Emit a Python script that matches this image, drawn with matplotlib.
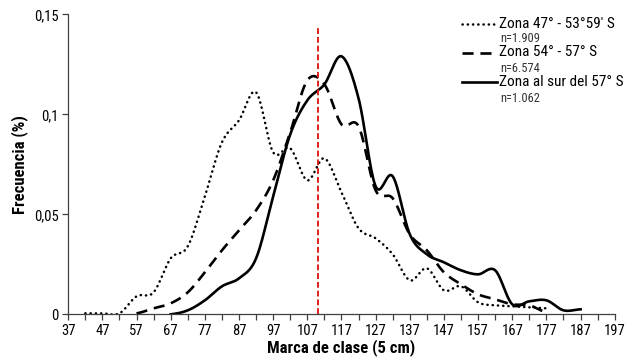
import numpy as np
import matplotlib
matplotlib.use("Agg")
import matplotlib.pyplot as plt
from matplotlib import font_manager
from matplotlib.lines import Line2D
from matplotlib.ticker import FuncFormatter

# class marks (5 cm) and frequencies
x_norte = [42, 47, 52, 57, 62, 67, 72, 77, 82, 87, 92, 97, 102, 107, 112, 117,
           122, 127, 132, 137, 142, 147, 152, 157, 162, 167, 172, 177]
f_norte = [0.0005, 0.0005, 0.0005, 0.009, 0.011, 0.028, 0.034, 0.059, 0.086,
           0.097, 0.111, 0.081, 0.083, 0.067, 0.078, 0.061, 0.043, 0.038,
           0.030, 0.017, 0.023, 0.012, 0.014, 0.006, 0.0045, 0.004, 0.0035,
           0.003]

x_centro = [57, 62, 67, 72, 77, 82, 87, 92, 97, 102, 107, 112, 117, 122, 127,
            132, 137, 142, 147, 152, 157, 162, 167, 172, 177]
f_centro = [0.0005, 0.003, 0.0055, 0.011, 0.021, 0.032, 0.042, 0.052, 0.067,
            0.091, 0.117, 0.115, 0.095, 0.094, 0.062, 0.058, 0.040, 0.032,
            0.021, 0.015, 0.010, 0.0075, 0.005, 0.0045, 0.001]

x_sur = [67, 72, 77, 82, 87, 92, 97, 102, 107, 112, 117, 122, 127, 132, 137,
         142, 147, 152, 157, 162, 167, 172, 177, 182, 187]
f_sur = [0.0, 0.002, 0.007, 0.014, 0.018, 0.028, 0.059, 0.090, 0.107, 0.115,
         0.129, 0.108, 0.064, 0.069, 0.040, 0.030, 0.026, 0.022, 0.020, 0.022,
         0.005, 0.0065, 0.007, 0.002, 0.0025]

labels = ["Zona 47° - 53°59' S", "Zona 54° - 57° S", "Zona al sur del 57° S"]
n_labels = ["n=1.909", "n=6.574", "n=1.062"]
talla_ref = 110

# Excel used Arial Narrow; pick a condensed sans if there is one
installed = {f.name for f in font_manager.fontManager.ttflist}
narrow = [f for f in ("Liberation Sans Narrow", "Roboto Condensed", "Archivo Narrow")
          if f in installed]
plt.rcParams["font.family"] = narrow[:1] + ["Liberation Sans", "DejaVu Sans"]
k = 1.0 if narrow else 0.8


def smooth(x, y, n=20):
    # catmull-rom through the points, like Excel's smoothed line
    x = np.asarray(x, float)
    y = np.asarray(y, float)
    px = np.concatenate([[2 * x[0] - x[1]], x, [2 * x[-1] - x[-2]]])
    py = np.concatenate([[y[0]], y, [y[-1]]])
    xs, ys = [], []
    t = np.linspace(0, 1, n, endpoint=False)
    for i in range(1, len(px) - 2):
        for arr, out in ((px, xs), (py, ys)):
            a, b, c, d = arr[i - 1:i + 3]
            out.extend(0.5 * (2 * b + (-a + c) * t + (2 * a - 5 * b + 4 * c - d) * t ** 2
                              + (-a + 3 * b - 3 * c + d) * t ** 3))
    xs.append(x[-1])
    ys.append(y[-1])
    return np.array(xs), np.array(ys)


fig = plt.figure(figsize=(6.26, 3.58), dpi=100)
ax = fig.add_axes([0.109, 0.122, 0.873, 0.838])

styles = [
    dict(linestyle=(0, (0.1, 2.0)), dash_capstyle="round", lw=1.8),
    dict(linestyle=(0, (4.2, 2.6)), dash_capstyle="butt", lw=1.9),
    dict(linestyle="-", lw=1.9),
]
for (xx, yy), st in zip([(x_norte, f_norte), (x_centro, f_centro), (x_sur, f_sur)], styles):
    sx, sy = smooth(xx, yy)
    ax.plot(sx, sy, color="black", **st)

ax.plot([talla_ref, talla_ref], [0, 0.1437], color="#e0201b", lw=1.4,
        linestyle=(0, (3, 1.5)))

ax.set_xlim(37, 197)
ax.set_ylim(0, 0.15)
ax.set_xticks(np.arange(37, 198, 10))
ax.set_xticks(np.arange(42, 197, 10), minor=True)
ax.set_yticks([0, 0.05, 0.1, 0.15])
ax.yaxis.set_major_formatter(FuncFormatter(lambda v, p: ("%g" % round(v, 2)).replace(".", ",")))

for s in ["top", "right"]:
    ax.spines[s].set_visible(False)
for s in ["left", "bottom"]:
    ax.spines[s].set_color("#404040")
    ax.spines[s].set_linewidth(0.9)
ax.tick_params(which="both", direction="out", length=4, width=0.9, color="#404040",
               labelsize=10.5 * k, labelcolor="black", pad=3)

ax.set_xlabel("Marca de clase (5 cm)", fontsize=12 * k, fontweight="bold", labelpad=1)
ax.set_ylabel("Frecuencia (%)", fontsize=12 * k, fontweight="bold", labelpad=4)

# legend drawn by hand: label plus sample size below
W, H = 626.0, 358.0
rows = [24, 52.5, 82]
n_gap = [14, 16, 16]
for i, st in enumerate(styles):
    yc = 1 - rows[i] / H
    fig.add_artist(Line2D([462 / W, 497 / W], [yc, yc], color="black",
                          transform=fig.transFigure, **st))
    fig.text(499 / W, yc, labels[i], fontsize=11 * k, va="center", ha="left")
    fig.text(500 / W, yc - n_gap[i] / H, n_labels[i], fontsize=9 * k, va="center",
             ha="left", color="#333333")

fig.savefig("out.png", dpi=100)
